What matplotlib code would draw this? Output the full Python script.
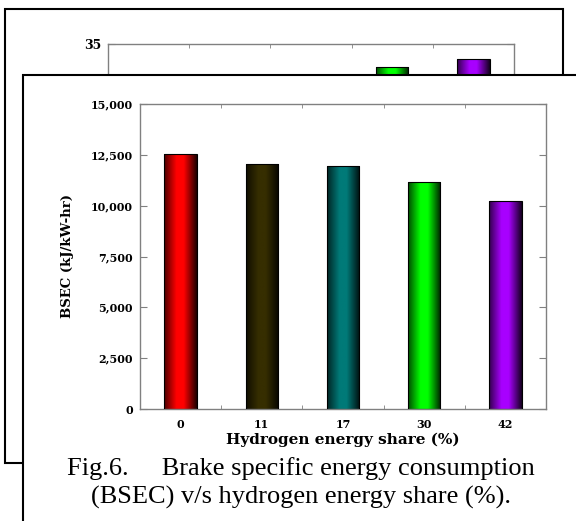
import matplotlib
matplotlib.use("Agg")
import matplotlib.pyplot as plt
import matplotlib.colors as mcolors
from matplotlib.patches import Rectangle
from matplotlib.ticker import FuncFormatter
import numpy as np

# front chart (Fig.6) data
h2_share = ["0", "11", "17", "30", "42"]
bsec = [12540, 12050, 11940, 11150, 10210]
bar_colors = ["#ff0000", "#362e00", "#007a78", "#00ff00", "#a800ff"]

# chart behind it, only the top part shows
back_values = [29.8, 30.6, 31.0, 32.55, 33.4]
back_yticks = [0, 5, 10, 15, 20, 25, 30, 35]

caption = "Fig.6.     Brake specific energy consumption\n(BSEC) v/s hydrogen energy share (%)."

W, H = 576, 521
AX_GRAY = "#808080"
SERIF = "DejaVu Serif"


def box(left, top, width, height):
    # pixel box (from top left) -> figure fraction
    return [left / W, 1 - (top + height) / H, width / W, height / H]


def shade_bars(ax, bars, colors):
    # cylinder look: dark edges, bright middle
    t = np.linspace(0, 1, 80)
    prof = np.interp(t, [0, 0.38, 0.6, 1], [0.3, 1.0, 1.0, 0.12])
    for b, c in zip(bars, colors):
        rgb = np.array(mcolors.to_rgb(c))
        img = prof[None, :, None] * rgb[None, None, :]
        x0, y0 = b.get_xy()
        im = ax.imshow(img, extent=(x0, x0 + b.get_width(), y0, y0 + b.get_height()),
                       aspect="auto", interpolation="bilinear", zorder=2)
        im.set_clip_path(b)


def style_axes(ax, n):
    for s in ax.spines.values():
        s.set_color(AX_GRAY)
        s.set_linewidth(1.0)
    ax.set_xlim(-0.5, n - 0.5)
    ax.set_xticks(range(n))
    ax.set_xticks([i + 0.5 for i in range(n - 1)], minor=True)
    ax.tick_params(axis="x", which="major", length=0, pad=7)
    ax.tick_params(axis="x", which="minor", direction="in", length=3,
                   top=True, bottom=True, color=AX_GRAY)
    ax.tick_params(axis="y", which="major", direction="in", length=5,
                   left=True, right=True, color=AX_GRAY, pad=5)


fig = plt.figure(figsize=(W / 100, H / 100), dpi=100)

# back figure frame
fig.add_artist(Rectangle(box(5, 9, 558, 454)[:2], 558 / W, 454 / H, transform=fig.transFigure,
                         facecolor="white", edgecolor="black", linewidth=1.5, zorder=0))

# back chart, the front frame hides all but its top strip
ax_b = fig.add_axes(box(108, 44, 406, 330))
ax_b.set_zorder(1)
bars_b = ax_b.bar(range(len(back_values)), back_values, width=0.4,
                  facecolor="none", edgecolor="black", linewidth=0.8, zorder=3)
shade_bars(ax_b, bars_b, bar_colors)
style_axes(ax_b, len(back_values))
ax_b.set_ylim(0, 35)
ax_b.set_yticks(back_yticks)
ax_b.set_xticklabels(h2_share)
for lab in ax_b.get_yticklabels() + ax_b.get_xticklabels():
    lab.set_fontfamily(SERIF)
    lab.set_fontweight("bold")
    lab.set_fontsize(9)

# front figure frame, covers most of the back one
fig.add_artist(Rectangle((23 / W, -0.2), 1.2, 1 - 75 / H + 0.2, transform=fig.transFigure,
                         facecolor="white", edgecolor="black", linewidth=1.5, zorder=2))

# front chart
ax = fig.add_axes(box(140, 104, 406, 305))
ax.set_zorder(3)
bars = ax.bar(range(len(bsec)), bsec, width=0.4,
              facecolor="none", edgecolor="black", linewidth=0.8, zorder=3)
shade_bars(ax, bars, bar_colors)
style_axes(ax, len(bsec))
ax.set_ylim(0, 15000)
ax.set_yticks(range(0, 15001, 2500))
ax.yaxis.set_major_formatter(FuncFormatter(lambda v, p: "{:,.0f}".format(v)))
ax.set_xticklabels(h2_share)
for lab in ax.get_yticklabels() + ax.get_xticklabels():
    lab.set_fontfamily(SERIF)
    lab.set_fontweight("bold")
    lab.set_fontsize(8)
ax.set_xlabel("Hydrogen energy share (%)", fontfamily=SERIF, fontweight="bold",
              fontsize=11, labelpad=2)
ax.set_ylabel("BSEC (kJ/kW-hr)", fontfamily=SERIF, fontweight="bold",
              fontsize=9.5, labelpad=12)

# caption, two lines
t = fig.text(301 / W, 1 - 483 / H, caption, ha="center", va="center",
             multialignment="center", fontfamily="Liberation Serif", fontsize=19,
             linespacing=1.3)
t.set_zorder(4)

fig.savefig("out.png", dpi=100)
